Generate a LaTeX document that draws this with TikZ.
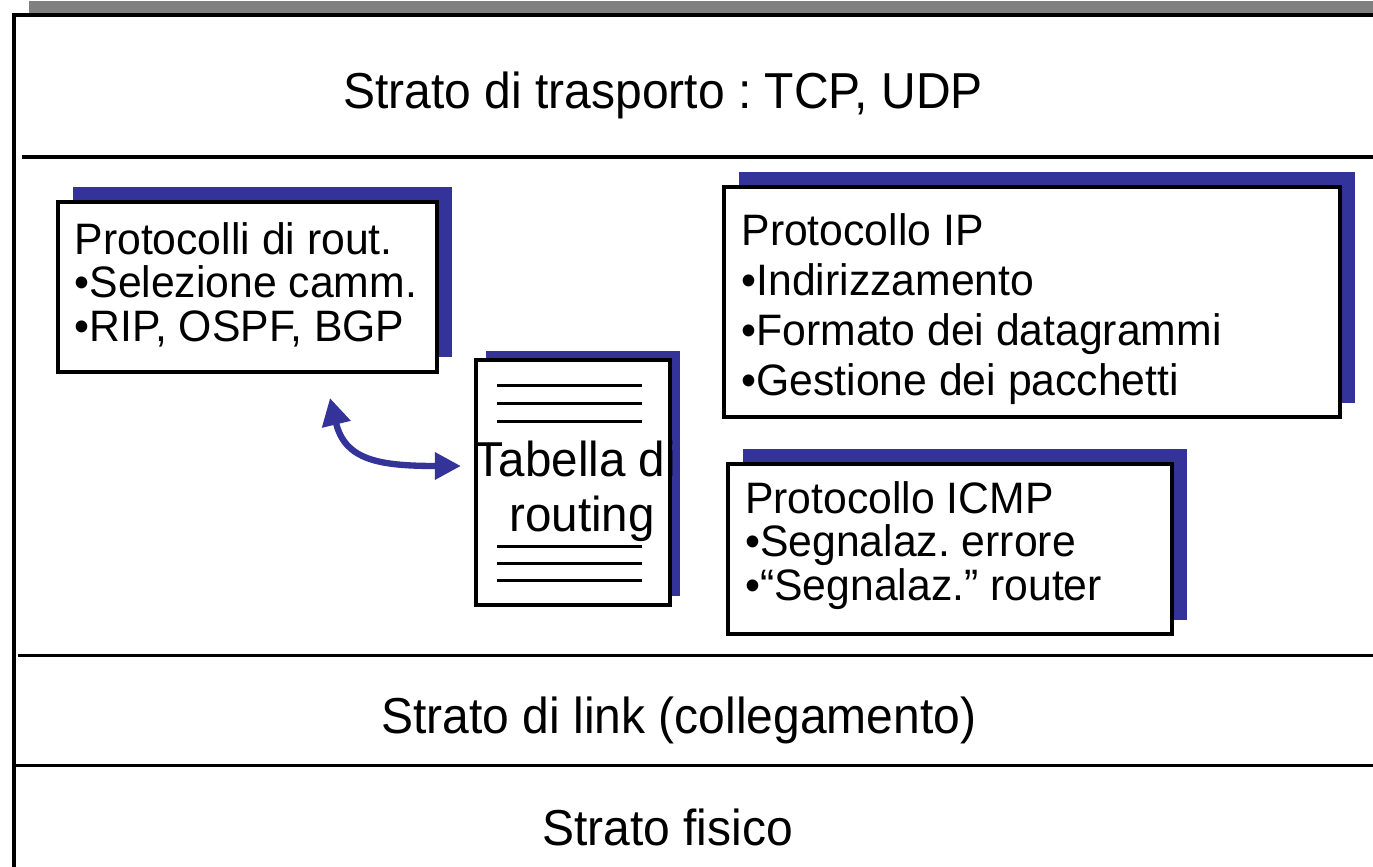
\documentclass[tikz,border=0pt]{standalone}
\usepackage{fontspec}
\setmainfont{Liberation Sans}
\newfontfamily\layerfont[FakeStretch=0.95]{Liberation Sans}
\newfontfamily\boxfont[FakeStretch=0.97]{Liberation Sans}
\newfontfamily\docfont[FakeStretch=0.97]{Liberation Sans}
\usetikzlibrary{shadows,arrows.meta}
\frenchspacing

\definecolor{shadowblue}{HTML}{333399}
\definecolor{framegray}{HTML}{808080}

\tikzset{
  layerlabel/.style={anchor=base, inner sep=0pt, font=\layerfont\fontsize{14.37pt}{17pt}\selectfont},
  sepline/.style={draw=black, line width=1.1pt},
  boxframe/.style={draw=black, line width=1.15pt, fill=white, inner sep=0pt,
    general shadow={fill=shadowblue, shadow xshift=0.15cm, shadow yshift=0.145cm}},
  boxtext/.style={anchor=north west, inner sep=0pt, align=left,
    font=\boxfont\fontsize{12.52pt}{12.38pt}\selectfont},
  wideboxtext/.style={boxtext, font=\boxfont\fontsize{12.52pt}{14.31pt}\selectfont},
  docframe/.style={draw=black, line width=1.15pt, fill=white, inner sep=0pt,
    general shadow={fill=shadowblue, shadow xshift=0.1cm, shadow yshift=0.095cm}},
  docline/.style={draw=black, line width=1.05pt},
  doctext/.style={inner sep=0pt, align=center, font=\docfont\fontsize{13.94pt}{15.65pt}\selectfont},
  linkarrow/.style={draw=shadowblue, line width=1.8pt,
    {Triangle[length=0.27cm,width=0.28cm]}-{Triangle[length=0.26cm,width=0.26cm]}},
}

\begin{document}
\begin{tikzpicture}[x=0.01cm, y=-0.01cm]
  \useasboundingbox (0,0) rectangle (1373,867);
  \clip (0,0) rectangle (1373,867);

  % outer network-layer frame with its grey drop shadow
  \fill[framegray] (28.8,1.2) rectangle (1400,900);
  \draw[line width=1.05pt, fill=white] (13.8,15.2) rectangle (1390,890);

  % layer separators
  \draw[sepline] (22,157) -- (1380,157);
  \draw[sepline] (18,655.5) -- (1380,655.5);
  \draw[sepline] (13.8,765.5) -- (1380,765.5);

  % layer names
  \node[layerlabel] (transport) at (663,108.3) {Strato di trasporto : TCP, UDP};
  \node[layerlabel] (link) at (679,733) {Strato di link (collegamento)};
  \node[layerlabel] (phys) at (667.5,845) {Strato fisico};

  % routing protocols
  \node[boxframe, minimum width=3.79cm, minimum height=1.695cm] (rout) at (247.5,286.75) {};
  \node[boxtext] (routtext) at ([shift={(18,21.5)}]rout.north west)
    {Protocolli di rout.\\•Selezione camm.\\•RIP, OSPF, BGP};

  % IP protocol
  \node[boxframe, minimum width=6.155cm, minimum height=2.30cm] (ip) at (1031.75,302) {};
  \node[wideboxtext] (iptext) at ([shift={(19,27.5)}]ip.north west)
    {Protocollo IP\\•Indirizzamento\\•Formato dei datagrammi\\•Gestione dei pacchetti};

  % ICMP protocol
  \node[boxframe, minimum width=4.44cm, minimum height=1.70cm] (icmp) at (950,549) {};
  \node[boxtext] (icmptext) at ([shift={(18.7,18.5)}]icmp.north west)
    {Protocollo ICMP\\•Segnalaz. errore\\•“Segnalaz.” router};

  % routing table document
  \node[docframe, minimum width=1.94cm, minimum height=2.445cm] (tab) at (573,482.75) {};
  \foreach \dy in {27,45,63,188,205,222}
    \draw[docline] ([shift={(23.5,\dy)}]tab.north west) -- ([shift={(168.5,\dy)}]tab.north west);
  \node[doctext] (tabtext) at (582,491.8) {Tabella di\hphantom{\ }\\routing};

  % exchange between routing protocols and the table
  \draw[linkarrow] ([shift={(82.5,24.5)}]rout.south)
    .. controls +(15,62) and +(-82,0) .. ([shift={(-13,-16.75)}]tab.west);
\end{tikzpicture}
\end{document}
